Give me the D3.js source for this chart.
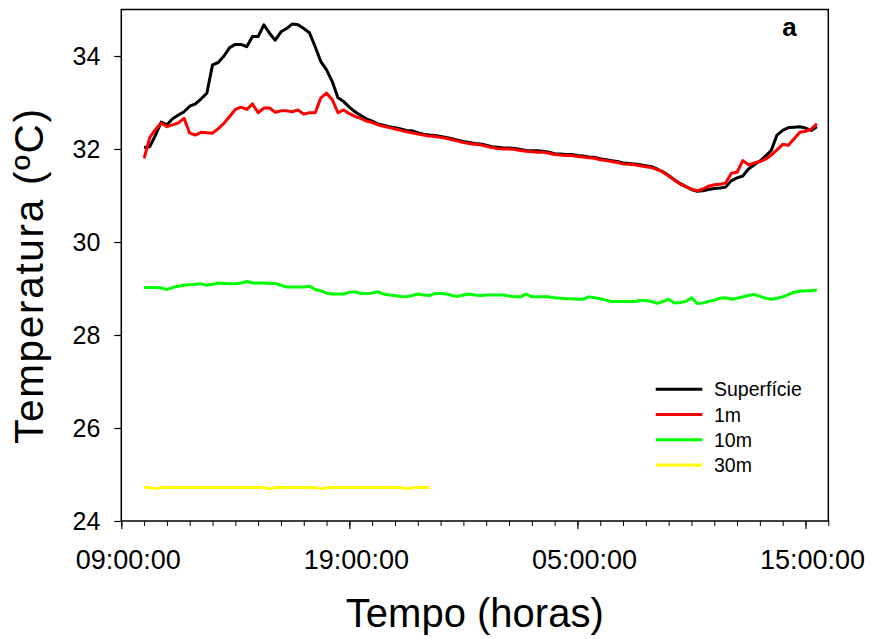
<!DOCTYPE html>
<html>
<head>
<meta charset="utf-8">
<script src="https://cdn.jsdelivr.net/npm/d3@7"></script>
<style>
  html, body { margin: 0; padding: 0; background: #fff; }
  svg { display: block; }
  text { font-family: "Liberation Sans", Arial, Helvetica, sans-serif; fill: #000; }
</style>
</head>
<body>
<svg id="chart" width="872" height="639"></svg>
<script>
// ---------------- data ----------------
// samples every 15 minutes starting at 10:00 (day 1)
const sampleStart = "2000-01-01T10:00:00";
const sampleStepMinutes = 15;

const superficie = [
  32.03, 32.05, 32.30, 32.58,   // 10h
  32.52, 32.65, 32.73, 32.80,   // 11h
  32.92, 32.97, 33.08, 33.20,   // 12h
  33.81, 33.86, 34.00, 34.18,   // 13h
  34.25, 34.25, 34.20, 34.42,   // 14h
  34.42, 34.67, 34.49, 34.34,   // 15h
  34.52, 34.59, 34.69, 34.67,   // 16h
  34.59, 34.50, 34.20, 33.88,   // 17h
  33.70, 33.45, 33.10, 33.02,   // 18h
  32.90, 32.80, 32.72, 32.65,   // 19h
  32.60, 32.54, 32.51, 32.48,   // 20h
  32.46, 32.43, 32.40, 32.39,   // 21h
  32.35, 32.32, 32.30, 32.29,   // 22h
  32.27, 32.25, 32.22, 32.19,   // 23h
  32.16, 32.14, 32.12, 32.11,   // 00h
  32.08, 32.05, 32.04, 32.02,   // 01h
  32.02, 32.01, 31.99, 31.97,   // 02h
  31.96, 31.96, 31.95, 31.93,   // 03h
  31.90, 31.89, 31.88, 31.88,   // 04h
  31.86, 31.85, 31.83, 31.82,   // 05h
  31.79, 31.77, 31.75, 31.73,   // 06h
  31.70, 31.69, 31.68, 31.66,   // 07h
  31.64, 31.62, 31.57, 31.51,   // 08h
  31.43, 31.34, 31.26, 31.19,   // 09h
  31.13, 31.09, 31.10, 31.13,   // 10h
  31.15, 31.16, 31.18, 31.32,   // 11h
  31.38, 31.42, 31.57, 31.66,   // 12h
  31.74, 31.85, 31.97, 32.30,   // 13h
  32.40, 32.46, 32.47, 32.48,   // 14h
  32.45, 32.40, 32.48           // 15h
];

const m1 = [
  31.80, 32.25, 32.42, 32.56,
  32.48, 32.52, 32.56, 32.66,
  32.34, 32.30, 32.36, 32.35,
  32.34, 32.44, 32.55, 32.70,
  32.85, 32.90, 32.85, 32.97,
  32.78, 32.88, 32.88, 32.79,
  32.82, 32.82, 32.80, 32.84,
  32.75, 32.78, 32.78, 33.10,
  33.20, 33.06, 32.78, 32.84,
  32.76, 32.70, 32.66, 32.60,
  32.57, 32.52, 32.49, 32.46,
  32.43, 32.40, 32.37, 32.35,
  32.32, 32.30, 32.28, 32.27,
  32.25, 32.23, 32.20, 32.17,
  32.14, 32.12, 32.10, 32.09,
  32.06, 32.03, 32.01, 32.00,
  32.00, 31.99, 31.97, 31.95,
  31.94, 31.93, 31.93, 31.91,
  31.88, 31.87, 31.86, 31.86,
  31.84, 31.83, 31.81, 31.80,
  31.77, 31.75, 31.73, 31.71,
  31.68, 31.67, 31.66, 31.64,
  31.62, 31.60, 31.56, 31.50,
  31.42, 31.33, 31.25, 31.19,
  31.14, 31.10, 31.14, 31.20,
  31.23, 31.24, 31.27, 31.48,
  31.50, 31.75, 31.66, 31.70,
  31.73, 31.78, 31.87, 31.98,
  32.10, 32.08, 32.22, 32.36,
  32.38, 32.43, 32.54
];

const m10 = [
  29.02, 29.02, 29.02, 29.01,
  28.98, 29.02, 29.05, 29.07,
  29.08, 29.09, 29.10, 29.07,
  29.09, 29.12, 29.11, 29.10,
  29.10, 29.12, 29.15, 29.12,
  29.12, 29.12, 29.11, 29.11,
  29.07, 29.03, 29.03, 29.03,
  29.03, 29.05, 28.98, 28.95,
  28.90, 28.88, 28.88, 28.88,
  28.92, 28.93, 28.89, 28.89,
  28.90, 28.93, 28.88, 28.86,
  28.85, 28.83, 28.82, 28.85,
  28.88, 28.86, 28.85, 28.89,
  28.89, 28.88, 28.85, 28.83,
  28.86, 28.88, 28.86, 28.85,
  28.86, 28.86, 28.86, 28.86,
  28.84, 28.82, 28.82, 28.88,
  28.82, 28.82, 28.82, 28.82,
  28.80, 28.79, 28.78, 28.78,
  28.77, 28.77, 28.82, 28.80,
  28.78, 28.75, 28.72, 28.72,
  28.72, 28.72, 28.72, 28.74,
  28.74, 28.72, 28.68, 28.72,
  28.77, 28.69, 28.70, 28.72,
  28.80, 28.68, 28.69, 28.72,
  28.75, 28.79, 28.80, 28.77,
  28.79, 28.82, 28.85, 28.87,
  28.83, 28.79, 28.77, 28.79,
  28.82, 28.87, 28.92, 28.94,
  28.95, 28.95, 28.97
];

const m30 = [
  24.72, 24.72, 24.69, 24.72,
  24.72, 24.72, 24.72, 24.72,
  24.72, 24.72, 24.72, 24.72,
  24.72, 24.72, 24.72, 24.72,
  24.72, 24.72, 24.72, 24.72,
  24.72, 24.72, 24.69, 24.72,
  24.72, 24.72, 24.72, 24.72,
  24.72, 24.72, 24.72, 24.69,
  24.72, 24.72, 24.72, 24.72,
  24.72, 24.72, 24.72, 24.72,
  24.72, 24.72, 24.72, 24.72,
  24.72, 24.72, 24.69, 24.72,
  24.72, 24.72, 24.72
];

const seriesNames = ["Superfície", "1m", "10m", "30m"];
const seriesColors = ["#000000", "#ff0000", "#00ff00", "#ffff00"];
const seriesValues = [superficie, m1, m10, m30];

const xDomain = ["2000-01-01T09:00:00", "2000-01-02T16:00:00"];
const xMajorTicks = ["2000-01-01T09:00:00", "2000-01-01T19:00:00", "2000-01-02T05:00:00", "2000-01-02T15:00:00"];
const yTicks = [24, 26, 28, 30, 32, 34];
const yDomain = [24, 35];

const xTitle = "Tempo (horas)";
const yTitle = "Temperatura (ºC)";
const panelLabel = "a";

// ---------------- chart ----------------
const svg = d3.select("#chart");
const L = 121.3, R = 828.3, T = 9.5, B = 521;

const x = d3.scaleTime().domain(xDomain.map(d => new Date(d))).range([L, R]);
const y = d3.scaleLinear().domain(yDomain).range([B, T]);

const t0 = new Date(sampleStart);
const timeAt = i => new Date(t0.getTime() + i * sampleStepMinutes * 60000);

// series lines
const lineGen = d3.line()
  .x((d, i) => x(timeAt(i)))
  .y(d => y(d));

const g = svg.append("g");
seriesValues.forEach((vals, k) => {
  g.append("path")
    .datum(vals)
    .attr("d", lineGen)
    .attr("fill", "none")
    .attr("stroke", seriesColors[k])
    .attr("stroke-width", k === 3 ? 2.8 : 3)
    .attr("stroke-linejoin", "round")
    .attr("stroke-linecap", "butt");
});

// frame
svg.append("rect")
  .attr("x", L).attr("y", T)
  .attr("width", R - L).attr("height", B - T)
  .attr("fill", "none").attr("stroke", "#000").attr("stroke-width", 1.5);

// x axis: minor (hourly) ticks
const majorDates = xMajorTicks.map(d => new Date(d));
const xMinor = d3.axisBottom(x)
  .ticks(d3.timeHour.every(1))
  .tickSize(5)
  .tickFormat("");
const gxMinor = svg.append("g").attr("transform", `translate(0,${B})`).call(xMinor);
gxMinor.select(".domain").remove();
gxMinor.selectAll(".tick line").attr("stroke", "#000").attr("stroke-width", 1);

const fmt = d3.timeFormat("%H:%M:%S");
const xMajor = d3.axisBottom(x)
  .tickValues(majorDates)
  .tickSize(8)
  .tickPadding(0)
  .tickFormat(fmt);
const gxMajor = svg.append("g").attr("transform", `translate(0,${B})`).call(xMajor);
gxMajor.select(".domain").remove();
gxMajor.selectAll(".tick line").attr("stroke", "#000").attr("stroke-width", 1.2);
gxMajor.selectAll(".tick text")
  .attr("x", 6.5)
  .attr("y", 0)
  .attr("dy", null)
  .attr("transform", "translate(0,47.5)")
  .style("font-size", "27px")
  .style("font-family", '"Liberation Sans", Arial, sans-serif')
  .attr("fill", "#000");

// y axis
const yAxis = d3.axisLeft(y)
  .tickValues(yTicks)
  .tickSize(7)
  .tickPadding(14)
  .tickFormat(d3.format("d"));
const gy = svg.append("g").attr("transform", `translate(${L},0)`).call(yAxis);
gy.select(".domain").remove();
gy.selectAll(".tick line").attr("stroke", "#000").attr("stroke-width", 1.2);
gy.selectAll(".tick text")
  .attr("dy", null)
  .attr("y", 8.7)
  .style("font-size", "25px")
  .style("font-family", '"Liberation Sans", Arial, sans-serif')
  .attr("fill", "#000");

// titles
svg.append("text")
  .attr("x", (L + R) / 2).attr("y", 627)
  .attr("text-anchor", "middle")
  .style("font-size", "40px")
  .text(xTitle);

svg.append("text")
  .attr("transform", `translate(43,${(108 + 445) / 2}) rotate(-90)`)
  .attr("text-anchor", "middle")
  .attr("textLength", 335)
  .attr("lengthAdjust", "spacing")
  .style("font-size", "40.5px")
  .text(yTitle);

svg.append("text")
  .attr("x", 789.5).attr("y", 35.7)
  .attr("text-anchor", "middle")
  .style("font-size", "26px")
  .style("font-weight", "bold")
  .text(panelLabel);

// legend
const legendY = d3.scalePoint().domain(seriesNames).range([389.3, 465]);
const lg = svg.append("g");
seriesNames.forEach((name, k) => {
  const yy = legendY(name);
  lg.append("line")
    .attr("x1", 655.7).attr("x2", 702.3)
    .attr("y1", yy).attr("y2", yy)
    .attr("stroke", seriesColors[k])
    .attr("stroke-width", 3);
  lg.append("text")
    .attr("x", 714).attr("y", yy + 7)
    .style("font-size", "19.5px")
    .text(name);
});
</script>
</body>
</html>
